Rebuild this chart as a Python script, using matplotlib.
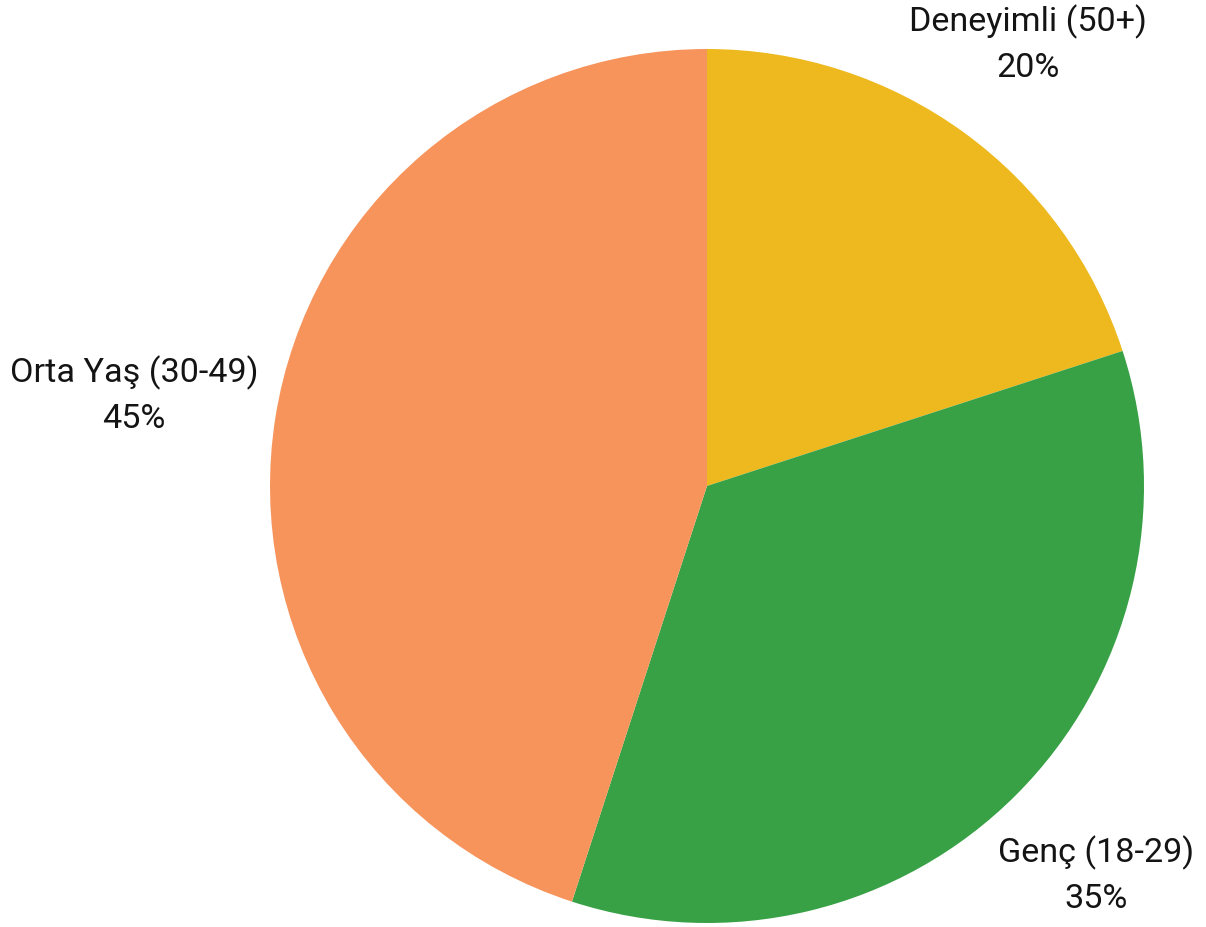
import matplotlib
matplotlib.use("Agg")
import matplotlib.pyplot as plt
import numpy as np

categories = ["Deneyimli (50+)", "Genç (18-29)", "Orta Yaş (30-49)"]
values = [20, 35, 45]
colors = ["#EDB91F", "#38A045", "#F7945C"]
label_dist = [1.25, 1.26, 1.328]

W, H = 1206, 927
cx, cy, R = 707, 486, 437

fig = plt.figure(figsize=(W / 100, H / 100), dpi=100)
ax = fig.add_axes([0, 0, 1, 1])

wedges, _ = ax.pie(values, colors=colors, startangle=90, counterclock=False,
                   radius=1, center=(0, 0), frame=True,
                   wedgeprops=dict(linewidth=0))
ax.set_xlim(-cx / R, (W - cx) / R)
ax.set_ylim(-(H - cy) / R, cy / R)
ax.set_aspect("auto")
ax.axis("off")

total = sum(values)
for w, cat, v, d in zip(wedges, categories, values, label_dist):
    ang = np.deg2rad((w.theta1 + w.theta2) / 2)
    x, y = d * np.cos(ang), d * np.sin(ang)
    ax.text(x, y, f"{cat}\n{round(100 * v / total)}%", ha="center", va="center",
            fontsize=24.6, family=["Roboto", "DejaVu Sans"], color="#141414",
            linespacing=1.5, multialignment="center")

fig.savefig("out.png", dpi=100)
